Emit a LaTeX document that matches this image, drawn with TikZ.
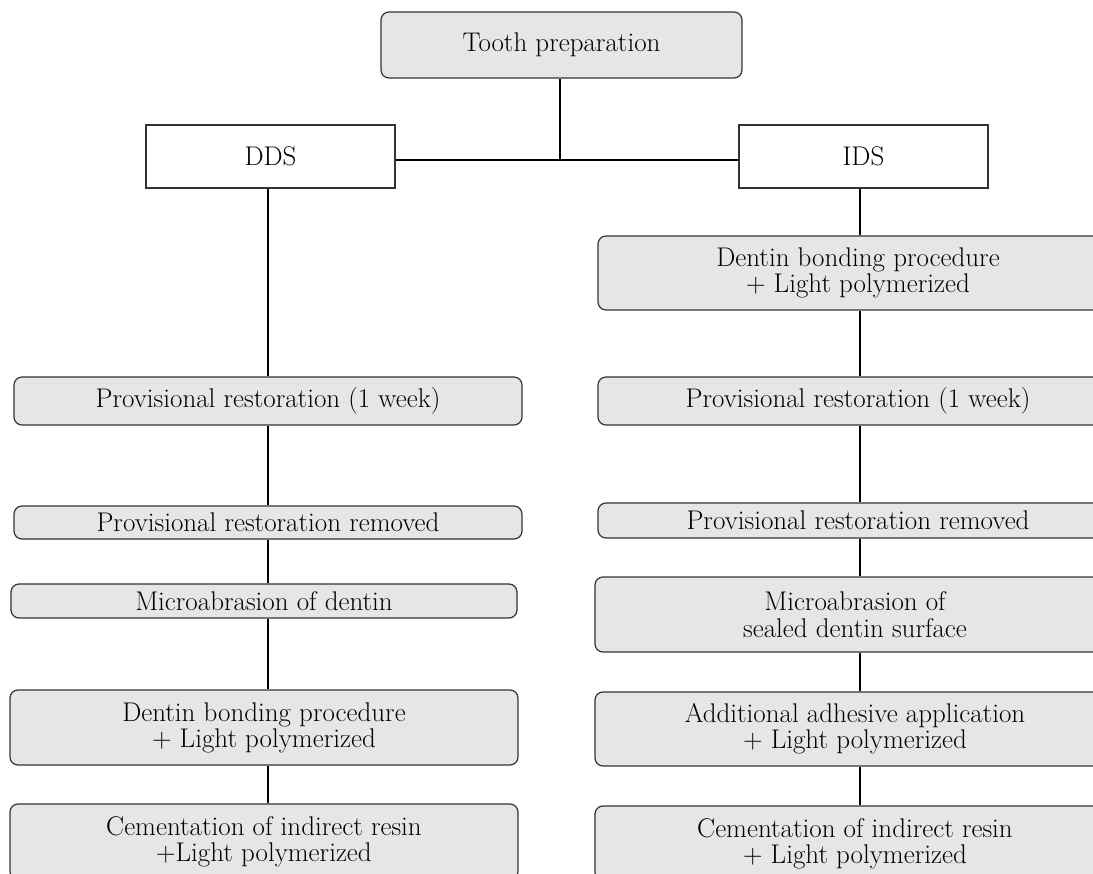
\documentclass[tikz,border=0pt]{standalone}
\usepackage{xcolor}
\definecolor{boxgray}{HTML}{E6E6E6}
\definecolor{edgegray}{HTML}{333333}
\begin{document}
\begin{tikzpicture}[x=1pt,y=-1pt,
  every node/.style={font=\fontsize{27}{26}\selectfont, inner sep=0pt, align=center},
  gbox/.style={draw=edgegray, line width=1.2pt, fill=boxgray, rounded corners=8pt, minimum width=#1},
  gbox/.default=508pt,
  wbox/.style={draw=edgegray, line width=1.2pt, fill=white, minimum width=249pt, minimum height=63pt},
  conn/.style={draw=black, line width=2.2pt}]
\path[use as bounding box, clip] (0,0) rectangle (1093,874);
\fill[white] (0,0) rectangle (1093,874);
% top
\node[gbox=361pt, minimum height=66pt] (tooth) at (561.5,45) {Tooth preparation};
\node[wbox] (dds) at (270.5,156.5) {DDS};
\node[wbox] (ids) at (863.5,156.5) {IDS};
% left column
\node[gbox=508pt, minimum height=48pt] (l1) at (268,401) {Provisional restoration (1 week)};
\node[gbox=508pt, minimum height=33pt] (l2) at (268,522.5) {Provisional restoration removed};
\node[gbox=506pt, minimum height=34pt] (l3) at (264,601) {Microabrasion of dentin};
\node[gbox=508pt, minimum height=75pt] (l4) at (264,727.5) {Dentin bonding procedure\\+ Light polymerized};
\node[gbox=508pt, minimum height=76pt] (l5) at (264,842) {Cementation of indirect resin\\+Light polymerized};
% right column
\node[gbox=520pt, minimum height=74pt] (r1) at (858,273) {Dentin bonding procedure\\+ Light polymerized};
\node[gbox=520pt, minimum height=48pt] (r2) at (858,401) {Provisional restoration (1 week)};
\node[gbox=520pt, minimum height=35pt] (r3) at (858,520.5) {Provisional restoration removed};
\node[gbox=520pt, minimum height=75pt] (r4) at (855,614.5) {Microabrasion of\\[1pt]sealed dentin surface};
\node[gbox=520pt, minimum height=74pt] (r5) at (855,729) {Additional adhesive application\\+ Light polymerized};
\node[gbox=520pt, minimum height=75pt] (r6) at (855,843.5) {Cementation of indirect resin\\+ Light polymerized};
% connector guides
\coordinate (j) at (560,160);
\coordinate (lx) at (268,0);
\coordinate (rx) at (860,0);
% connectors
\draw[conn] (tooth.south -| j) -- (j);
\draw[conn] (dds.east |- j) -- (ids.west |- j);
\draw[conn] (dds.south -| lx) -- (l1.north -| lx);
\draw[conn] (l1.south -| lx) -- (l2.north -| lx);
\draw[conn] (l2.south -| lx) -- (l3.north -| lx);
\draw[conn] (l3.south -| lx) -- (l4.north -| lx);
\draw[conn] (l4.south -| lx) -- (l5.north -| lx);
\draw[conn] (ids.south -| rx) -- (r1.north -| rx);
\draw[conn] (r1.south -| rx) -- (r2.north -| rx);
\draw[conn] (r2.south -| rx) -- (r3.north -| rx);
\draw[conn] (r3.south -| rx) -- (r4.north -| rx);
\draw[conn] (r4.south -| rx) -- (r5.north -| rx);
\draw[conn] (r5.south -| rx) -- (r6.north -| rx);
\end{tikzpicture}
\end{document}
